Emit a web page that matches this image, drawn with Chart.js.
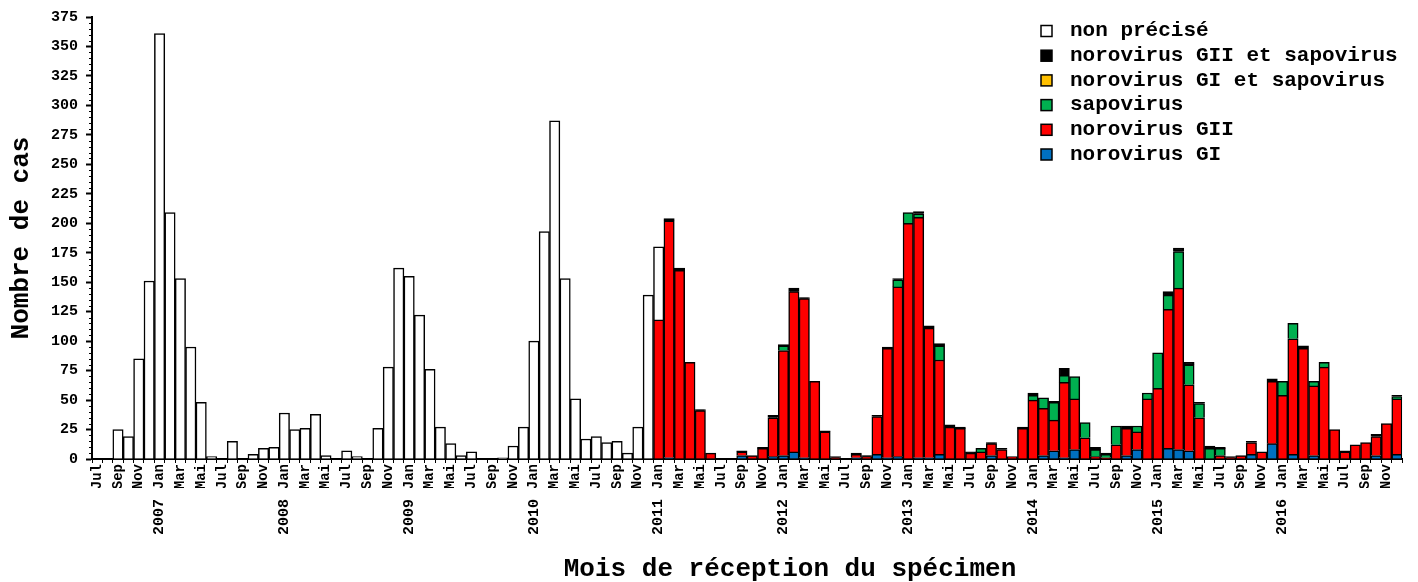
<!DOCTYPE html>
<html>
<head>
<meta charset="utf-8">
<script src="https://cdn.jsdelivr.net/npm/chart.js@4.4.0/dist/chart.umd.min.js"></script>
<style>
  html, body { margin: 0; padding: 0; background: #fff; }
  #wrap { width: 1418px; height: 582px; }
</style>
</head>
<body>
<div id="wrap"><canvas id="myChart" width="1418" height="582"></canvas></div>
<script>
// mois affiches sous l'axe (un sur deux), premier mois = juillet 2006
var months = ['Jan', 'Fév', 'Mar', 'Avr', 'Mai', 'Juin', 'Jul', 'Aoû', 'Sep', 'Oct', 'Nov', 'Déc'];
var firstYear = 2006;
var firstMonth = 6;

// non précisé
var nonPrecise = [
  0, 0, 25, 19, 85, 151,                                  // 2006 (jul-dec)
  361, 209, 153, 95, 48, 2, 0, 15, 0, 4, 9, 10,           // 2007
  39, 25, 26, 38, 3, 0, 7, 2, 0, 26, 78, 162,             // 2008
  155, 122, 76, 27, 13, 3, 6, 0, 0, 1, 11, 27,            // 2009
  100, 193, 287, 153, 51, 17, 19, 14, 15, 5, 27, 139,     // 2010
  62, 0, 0, 0, 0, 0, 0, 0, 0, 0, 0, 0,                    // 2011
  0, 0, 0, 0, 0, 0, 0, 0, 0, 0, 0, 0,                     // 2012
  0, 0, 0, 0, 0, 0, 0, 0, 0, 0, 0, 0,                     // 2013
  0, 0, 0, 0, 0, 0, 0, 0, 0, 0, 0, 0,                     // 2014
  0, 0, 0, 0, 0, 0, 0, 0, 0, 0, 0, 0,                     // 2015
  0, 0, 0, 0, 0, 0, 0, 0, 0, 0, 0, 0                      // 2016
];

// norovirus GI
var noroGI = [
  0, 0, 0, 0, 0, 0,
  0, 0, 0, 0, 0, 0, 0, 0, 0, 0, 0, 0,
  0, 0, 0, 0, 0, 0, 0, 0, 0, 0, 0, 0,
  0, 0, 0, 0, 0, 0, 0, 0, 0, 0, 0, 0,
  0, 0, 0, 0, 0, 0, 0, 0, 0, 0, 0, 0,
  0, 1, 0, 0, 0, 0, 0, 0, 3, 0, 0, 2,
  3, 6, 1, 0, 0, 0, 0, 1, 0, 4, 1, 2,
  0, 1, 1, 4, 0, 0, 0, 0, 3, 0, 0, 0,
  0, 3, 7, 1, 8, 0, 0, 0, 0, 3, 8, 0,
  0, 9, 8, 7, 0, 0, 0, 0, 0, 4, 0, 13,
  0, 4, 0, 3, 0, 0, 0, 0, 0, 3, 0, 4
];

// norovirus GII
var noroGII = [
  0, 0, 0, 0, 0, 0,
  0, 0, 0, 0, 0, 0, 0, 0, 0, 0, 0, 0,
  0, 0, 0, 0, 0, 0, 0, 0, 0, 0, 0, 0,
  0, 0, 0, 0, 0, 0, 0, 0, 0, 0, 0, 0,
  0, 0, 0, 0, 0, 0, 0, 0, 0, 0, 0, 0,
  118, 201, 160, 82, 41, 5, 0, 0, 3, 3, 9, 33,
  89, 136, 135, 66, 23, 1, 0, 3, 2, 32, 93, 144,
  200, 204, 110, 80, 27, 26, 5, 6, 10, 8, 2, 26,
  50, 40, 26, 64, 43, 18, 2, 1, 12, 23, 15, 51,
  60, 118, 137, 56, 35, 0, 3, 1, 3, 10, 6, 53,
  54, 98, 94, 59, 78, 25, 6, 12, 14, 16, 30, 47
];

// sapovirus
var sapo = [
  0, 0, 0, 0, 0, 0,
  0, 0, 0, 0, 0, 0, 0, 0, 0, 0, 0, 0,
  0, 0, 0, 0, 0, 0, 0, 0, 0, 0, 0, 0,
  0, 0, 0, 0, 0, 0, 0, 0, 0, 0, 0, 0,
  0, 0, 0, 0, 0, 0, 0, 0, 0, 0, 0, 0,
  0, 0, 0, 0, 0, 0, 0, 0, 0, 0, 0, 0,
  4, 0, 0, 0, 0, 0, 0, 0, 0, 0, 0, 6,
  9, 3, 0, 12, 0, 0, 0, 3, 0, 0, 0, 0,
  4, 9, 15, 6, 19, 13, 6, 3, 16, 0, 5, 5,
  30, 12, 31, 17, 12, 9, 6, 0, 0, 0, 0, 0,
  12, 13, 0, 4, 4, 0, 0, 0, 0, 0, 0, 2
];

// norovirus GI et sapovirus
var noroGISapo = [
  0, 0, 0, 0, 0, 0,
  0, 0, 0, 0, 0, 0, 0, 0, 0, 0, 0, 0,
  0, 0, 0, 0, 0, 0, 0, 0, 0, 0, 0, 0,
  0, 0, 0, 0, 0, 0, 0, 0, 0, 0, 0, 0,
  0, 0, 0, 0, 0, 0, 0, 0, 0, 0, 0, 0,
  0, 0, 0, 0, 0, 0, 0, 0, 0, 0, 0, 0,
  0, 0, 0, 0, 0, 0, 0, 0, 0, 0, 0, 0,
  0, 0, 0, 0, 0, 0, 0, 0, 0, 0, 0, 0,
  0, 0, 0, 0, 0, 0, 0, 0, 0, 0, 0, 0,
  0, 0, 0, 0, 0, 0, 0, 0, 0, 0, 0, 0,
  0, 0, 0, 0, 0, 0, 0, 0, 0, 0, 0, 0
];

// norovirus GII et sapovirus
var noroGIISapo = [
  0, 0, 0, 0, 0, 0,
  0, 0, 0, 0, 0, 0, 0, 0, 0, 0, 0, 0,
  0, 0, 0, 0, 0, 0, 0, 0, 0, 0, 0, 0,
  0, 0, 0, 0, 0, 0, 0, 0, 0, 0, 0, 0,
  0, 0, 0, 0, 0, 0, 0, 0, 0, 0, 0, 0,
  0, 2, 2, 0, 1, 0, 0, 0, 1, 0, 1, 2,
  1, 3, 1, 0, 1, 1, 0, 1, 1, 1, 1, 1,
  0, 2, 2, 2, 2, 1, 1, 0, 1, 1, 0, 1,
  2, 0, 1, 6, 0, 0, 2, 1, 0, 2, 0, 0,
  0, 3, 3, 2, 1, 2, 1, 1, 0, 1, 0, 2,
  0, 0, 2, 0, 0, 0, 1, 0, 0, 2, 0, 1
];

var monthLabels = [];
var yearLabels = [];
for (var i = 0; i < nonPrecise.length; i++) {
  var m = (firstMonth + i) % 12;
  var yr = firstYear + Math.floor((firstMonth + i) / 12);
  monthLabels.push(months[m]);
  yearLabels.push(m === 0 ? String(yr) : '');
}

var FONT = "'Liberation Mono', 'Courier New', monospace";
Chart.defaults.font.family = FONT;
Chart.defaults.font.weight = 'bold';
Chart.defaults.color = '#000';

// petites graduations de l'axe Y (tous les 5)
var minorTicks = {
  id: 'minorTicks',
  afterDraw: function (chart) {
    var sy = chart.scales.y;
    var ctx = chart.ctx;
    var x0 = chart.chartArea.left;
    ctx.save();
    ctx.strokeStyle = '#000';
    ctx.lineWidth = 1;
    for (var v = 5; v < 375; v += 5) {
      if (v % 25 === 0) continue;
      var py = Math.round(sy.getPixelForValue(v)) + 0.5;
      ctx.beginPath();
      ctx.moveTo(x0 - 3, py);
      ctx.lineTo(x0, py);
      ctx.stroke();
    }
    ctx.restore();
  }
};

// legende dans la zone du graphique (en haut a droite) + titre de l'axe X
var legendBox = {
  id: 'legendBox',
  afterDraw: function (chart) {
    var ctx = chart.ctx;
    var sets = chart.data.datasets.slice().reverse();
    ctx.save();
    ctx.font = 'bold 21px ' + FONT;
    ctx.textBaseline = 'middle';
    sets.forEach(function (ds, k) {
      var y = 31 + k * 24.7;
      ctx.fillStyle = ds.backgroundColor;
      ctx.fillRect(1041, y - 5.5, 11, 11);
      ctx.strokeStyle = '#000';
      ctx.lineWidth = 1.5;
      ctx.strokeRect(1041, y - 5.5, 11, 11);
      ctx.fillStyle = '#000';
      ctx.fillText(ds.label, 1070, y);
    });

    ctx.font = 'bold 26px ' + FONT;
    ctx.textAlign = 'center';
    ctx.fillText('Mois de réception du spécimen', 790, 569);
    ctx.restore();
  }
};

var ctx = document.getElementById('myChart').getContext('2d');

var myChart = new Chart(ctx, {
  type: 'bar',
  data: {
    labels: monthLabels,
    datasets: [
      { label: 'norovirus GI', data: noroGI, backgroundColor: '#0070C0' },
      { label: 'norovirus GII', data: noroGII, backgroundColor: '#FF0000' },
      { label: 'sapovirus', data: sapo, backgroundColor: '#00B050' },
      { label: 'norovirus GI et sapovirus', data: noroGISapo, backgroundColor: '#FFC000' },
      { label: 'norovirus GII et sapovirus', data: noroGIISapo, backgroundColor: '#000000' },
      { label: 'non précisé', data: nonPrecise, backgroundColor: '#FFFFFF' }
    ]
  },
  options: {
    responsive: false,
    animation: false,
    layout: { padding: { top: 16, right: 11, left: 0, bottom: 0 } },
    datasets: {
      bar: {
        barPercentage: 1,
        categoryPercentage: 1,
        borderWidth: 1.5,
        borderColor: '#000',
        stack: 'cas'
      }
    },
    plugins: {
      legend: { display: false },
      tooltip: { enabled: false }
    },
    scales: {
      x: {
        stacked: true,
        offset: true,
        grid: { offset: true, drawOnChartArea: false, tickLength: 4, color: '#000', lineWidth: 1 },
        border: { color: '#000', width: 2 },
        ticks: {
          autoSkip: false,
          minRotation: 90,
          maxRotation: 90,
          padding: 1,
          font: { size: 14, weight: 'bold' },
          callback: function (value, index) {
            return index % 2 === 0 ? this.getLabelForValue(value) : '';
          }
        },
        afterFit: function (scale) { scale.height = 29; }
      },
      years: {
        type: 'category',
        axis: 'x',
        position: 'bottom',
        weight: 1,
        labels: yearLabels,
        offset: true,
        grid: { display: false },
        border: { display: false },
        ticks: {
          autoSkip: false,
          minRotation: 90,
          maxRotation: 90,
          padding: 3,
          font: { size: 15, weight: 'bold' }
        },
        afterFit: function (scale) { scale.height = 94; }
      },
      y: {
        stacked: true,
        min: 0,
        max: 375,
        ticks: { stepSize: 25, padding: 8, font: { size: 15, weight: 'bold' } },
        grid: { drawOnChartArea: false, tickLength: 6, tickWidth: 2, color: '#000' },
        border: { color: '#000', width: 2 },
        title: {
          display: true,
          text: 'Nombre de cas',
          font: { size: 26, weight: 'bold', lineHeight: 1 },
          padding: { top: 8, bottom: 0 }
        },
        afterFit: function (scale) { scale.width = 92; }
      }
    }
  },
  plugins: [minorTicks, legendBox]
});
</script>
</body>
</html>
